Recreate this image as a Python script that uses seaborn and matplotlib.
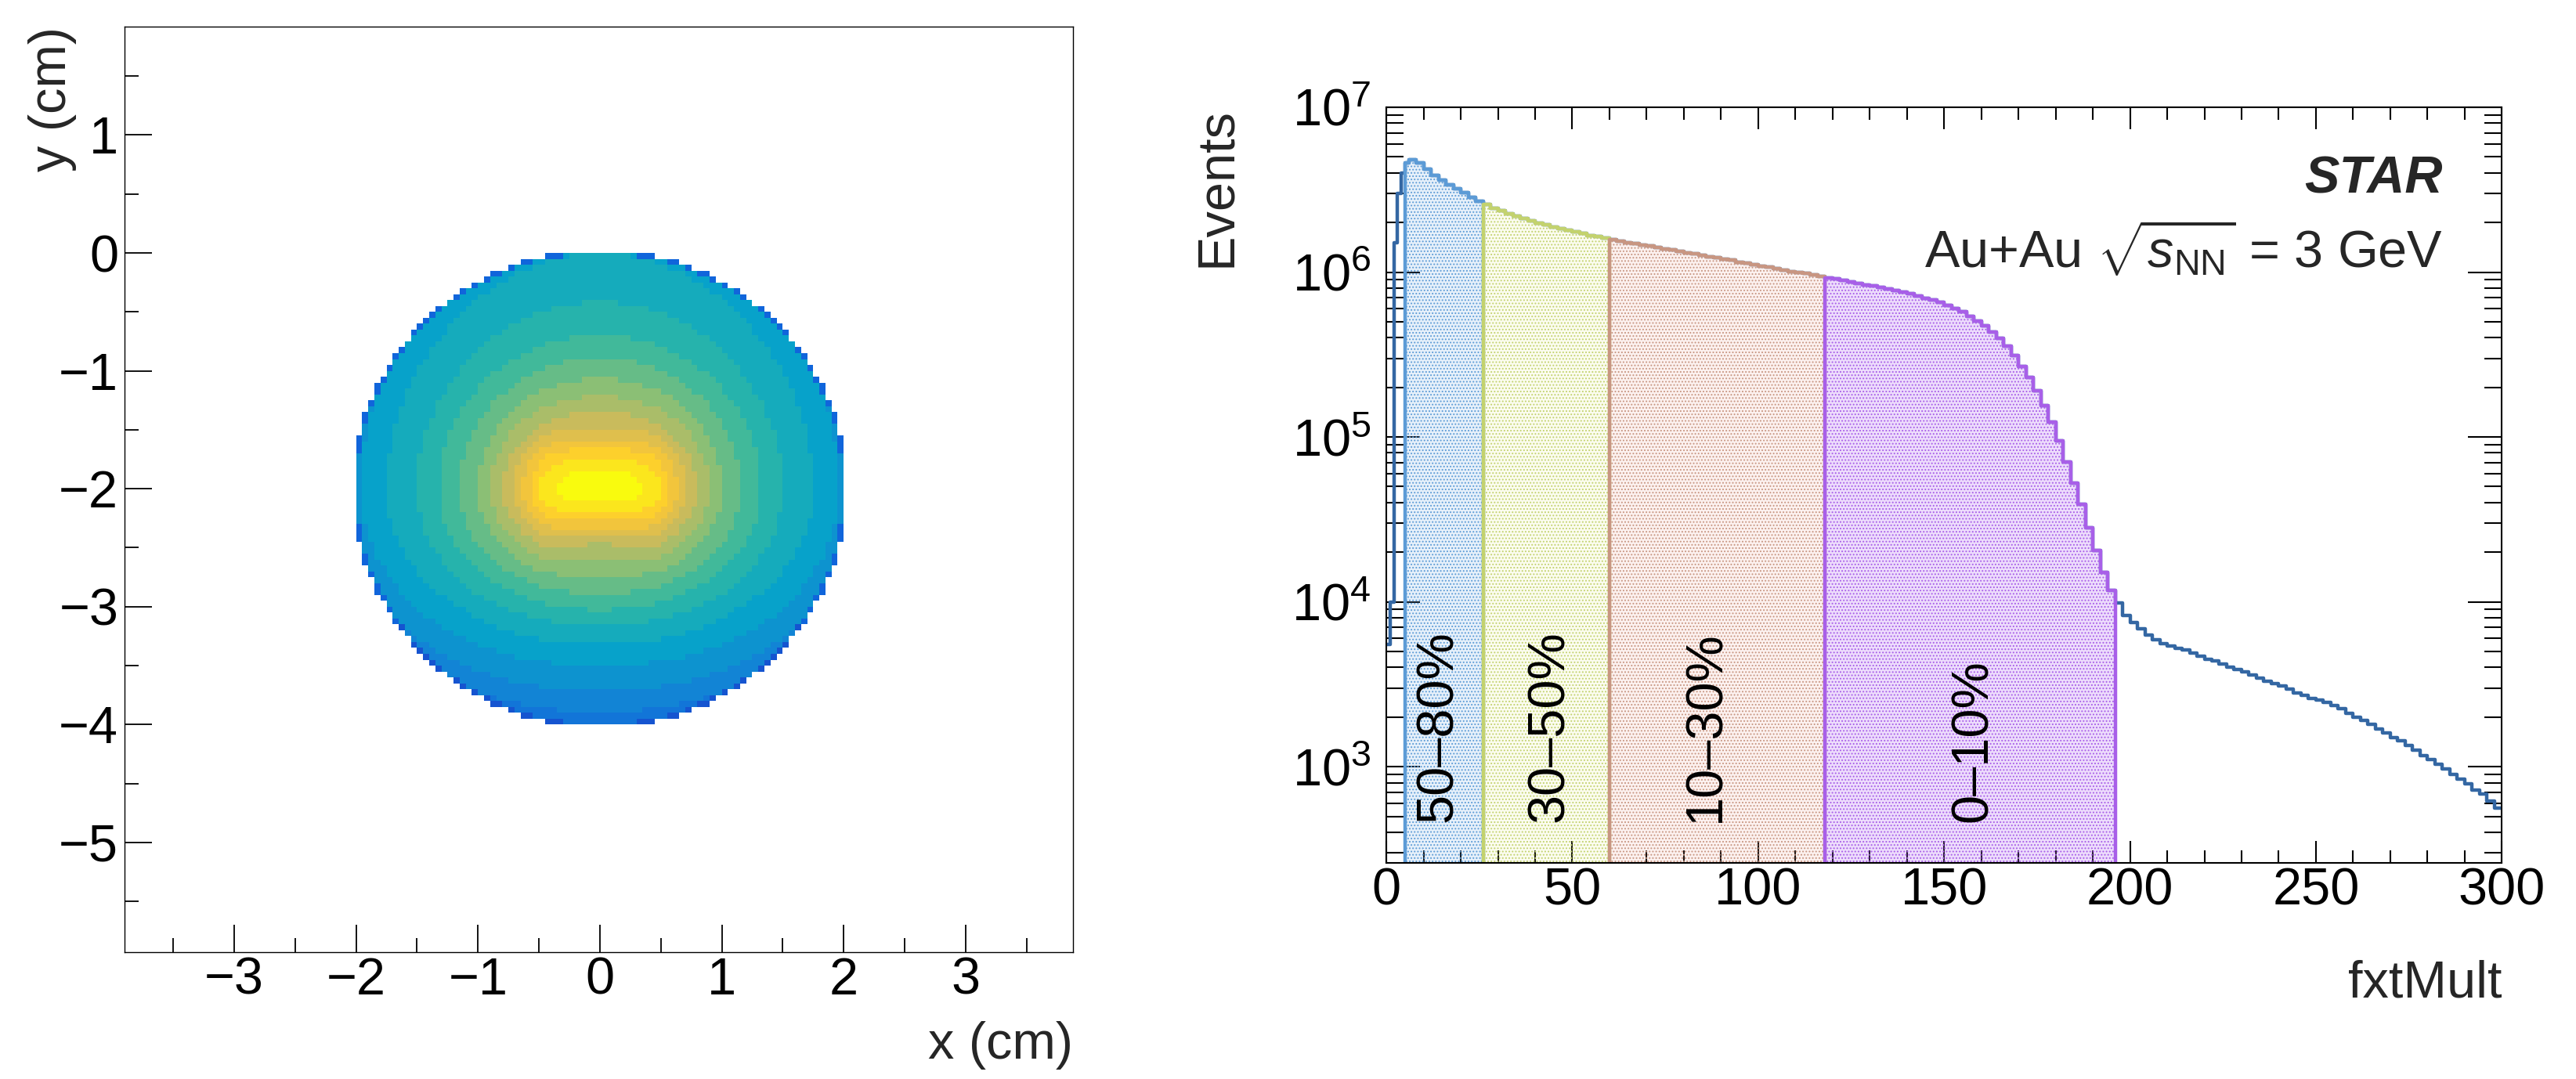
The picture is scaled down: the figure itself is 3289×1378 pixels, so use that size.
import numpy as np
import matplotlib
matplotlib.use("Agg")
import matplotlib.pyplot as plt
from matplotlib.colors import LinearSegmentedColormap, to_rgba
from matplotlib.ticker import MultipleLocator, LogLocator, NullFormatter
import seaborn as sns

# ---------------- left: vertex x-y map ----------------
# colour level (0..1 of the palette) read from the picture along three directions
ring_radius = [0.0, 0.25, 0.5, 0.75, 1.0, 1.25, 1.5, 1.75, 2.0]
level_horizontal = [1.0, 0.98, 0.90, 0.72, 0.60, 0.52, 0.45, 0.40, 0.34]
level_up = [1.0, 0.90, 0.75, 0.66, 0.58, 0.51, 0.46, 0.43, 0.40]
level_down = [1.0, 0.86, 0.68, 0.60, 0.51, 0.42, 0.35, 0.29, 0.22]
target_center = (0.0, -2.0)
target_radius = 2.025
rim_radius = 2.0      # bins beyond this are only partly filled
rim_fraction = 0.5
vtx_bin = 0.05

# ---------------- right: fxtMult distribution ----------------
mult_edges = [0, 1, 2, 3, 4, 5] + list(range(6, 301, 2))
rise_counts = [5.5e3, 1.0e4, 1.5e6, 3.0e6, 4.0e6]
c5080_counts = [4.6e6, 4.8e6, 4.6e6, 4.2e6, 3.85e6, 3.6e6, 3.4e6, 3.2e6, 3.05e6,
                2.85e6, 2.7e6]
c3050_counts = [2.57e6, 2.45e6, 2.37e6, 2.26e6, 2.19e6, 2.11e6, 2.04e6, 1.98e6,
                1.93e6, 1.87e6, 1.83e6, 1.79e6, 1.75e6, 1.71e6, 1.67e6, 1.64e6,
                1.61e6]
c1030_counts = [1.57e6, 1.54e6, 1.51e6, 1.49e6, 1.46e6, 1.44e6, 1.41e6, 1.38e6,
                1.36e6, 1.33e6, 1.31e6, 1.29e6, 1.26e6, 1.24e6, 1.22e6, 1.20e6,
                1.18e6, 1.15e6, 1.13e6, 1.11e6, 1.09e6, 1.07e6, 1.05e6, 1.03e6,
                1.01e6, 9.95e5, 9.79e5, 9.61e5, 9.44e5]
c010_counts = [9.25e5, 9.08e5, 8.91e5, 8.73e5, 8.57e5, 8.39e5, 8.24e5, 8.07e5,
               7.91e5, 7.74e5, 7.57e5, 7.38e5, 7.18e5, 6.97e5, 6.75e5, 6.53e5,
               6.30e5, 6.03e5, 5.73e5, 5.41e5, 5.07e5, 4.72e5, 4.35e5, 3.95e5,
               3.55e5, 3.13e5, 2.69e5, 2.29e5, 1.91e5, 1.55e5, 1.23e5, 9.44e4,
               7.08e4, 5.25e4, 3.89e4, 2.82e4, 2.04e4, 1.51e4, 1.17e4]
tail_counts = [9.8e3, 8.3e3, 7.5e3, 6.9e3, 6.3e3, 5.9e3, 5.6e3, 5.4e3, 5.25e3,
               5.1e3, 4.9e3, 4.7e3, 4.5e3, 4.4e3, 4.2e3, 4.0e3, 3.9e3, 3.75e3,
               3.6e3, 3.45e3, 3.3e3, 3.2e3, 3.1e3, 2.95e3, 2.8e3, 2.7e3, 2.6e3,
               2.55e3, 2.45e3, 2.35e3, 2.25e3, 2.1e3, 2.0e3, 1.9e3, 1.8e3, 1.7e3,
               1.6e3, 1.5e3, 1.43e3, 1.35e3, 1.26e3, 1.17e3, 1.11e3, 1.04e3,
               970, 900, 840, 790, 720, 680, 620, 560]
centrality_labels = ["50\u201380%", "30\u201350%", "10\u201330%", "0\u201310%"]
centrality_edges = [5, 26, 60, 118, 196]
centrality_colors = ["#5c9bd6", "#c3d26e", "#c89682", "#a85fe8"]
centrality_fill = ["#78b0e6", "#e6ee80", "#eaa290", "#b46ef5"]
centrality_fill_alpha = [0.18, 0.12, 0.14, 0.24]
centrality_label_x = [14, 44, 86, 158]
base_color = "#3467a3"

sns.set_theme(style="ticks")
plt.rcParams["font.family"] = ["Liberation Sans", "DejaVu Sans"]
plt.rcParams["mathtext.fontset"] = "custom"
plt.rcParams["mathtext.rm"] = "Liberation Sans"
plt.rcParams["mathtext.it"] = "Liberation Sans:italic"
plt.rcParams["mathtext.bf"] = "Liberation Sans:bold"
plt.rcParams["axes.edgecolor"] = "black"
plt.rcParams["hatch.linewidth"] = 0.9

FS = 48

# ROOT kBird palette, 20 contour levels
kbird = LinearSegmentedColormap.from_list("kbird", [
    (0.2082, 0.1664, 0.5293), (0.0592, 0.3599, 0.8684), (0.0780, 0.5041, 0.8385),
    (0.0232, 0.6419, 0.7914), (0.1802, 0.7178, 0.6425), (0.5301, 0.7492, 0.4662),
    (0.8186, 0.7328, 0.3499), (0.9956, 0.7862, 0.1968), (0.9764, 0.9832, 0.0539)])
kbird20 = kbird.resampled(20)

fig = plt.figure(figsize=(32.89, 13.78), dpi=100)
ax1 = fig.add_axes([0.0483, 0.1176, 0.3682, 0.8578])
ax2 = fig.add_axes([0.5382, 0.2003, 0.4330, 0.7003])

# ---- left panel
x_edges = np.round(np.arange(-2.1, 2.1 + 1e-9, vtx_bin), 4) + target_center[0]
y_edges = np.round(np.arange(-2.1, 2.1 + 1e-9, vtx_bin), 4) + target_center[1]
xc = 0.5 * (x_edges[:-1] + x_edges[1:])
yc = 0.5 * (y_edges[:-1] + y_edges[1:])
gx, gy = np.meshgrid(xc, yc)
dx = gx - target_center[0]
dy = gy - target_center[1]
rr = np.hypot(dx, dy)
s2 = np.where(rr > 0, (dy / np.where(rr > 0, rr, 1)) ** 2, 0)
h = np.interp(rr, ring_radius, level_horizontal)
lev = np.where(dy >= 0,
               (1 - s2) * h + s2 * np.interp(rr, ring_radius, level_up),
               (1 - s2) * h + s2 * np.interp(rr, ring_radius, level_down))
lev = np.where(rr > rim_radius, lev * rim_fraction, lev)
inside = rr <= target_radius
sns.histplot(x=gx[inside], y=gy[inside], weights=lev[inside],
             bins=[list(x_edges), list(y_edges)], cmap=kbird20, vmin=0, vmax=1,
             ax=ax1, linewidth=0, edgecolor="face")

ax1.set_xlim(-3.9, 3.88)
ax1.set_ylim(-5.93, 1.92)
ax1.xaxis.set_major_locator(MultipleLocator(1))
ax1.xaxis.set_minor_locator(MultipleLocator(0.5))
ax1.yaxis.set_major_locator(MultipleLocator(1))
ax1.yaxis.set_minor_locator(MultipleLocator(0.5))
ax1.tick_params(which="both", direction="in", top=False, right=False,
                labelsize=FS, width=1.3, colors="black")
ax1.tick_params(which="major", length=25)
ax1.tick_params(which="minor", length=13)
ax1.tick_params(axis="x", pad=4)
ax1.tick_params(axis="y", pad=5.5)
for sp in ax1.spines.values():
    sp.set_linewidth(1.0)
    sp.set_visible(True)
ax1.set_xlabel("x (cm)", fontsize=FS, loc="right")
ax1.set_ylabel("y (cm)", fontsize=FS, loc="top")
ax1.xaxis.set_label_coords(1.0, -0.101)
ax1.xaxis.label.set_verticalalignment("center")
ax1.yaxis.set_label_coords(-0.076, 1.0)
ax1.yaxis.label.set_verticalalignment("center")

# ---- right panel
edges = np.array(mult_edges, dtype=float)
centers = 0.5 * (edges[:-1] + edges[1:])
counts = np.array(rise_counts + c5080_counts + c3050_counts + c1030_counts
                  + c010_counts + tail_counts)

ax2.set_yscale("log")
sns.histplot(x=centers, weights=counts, bins=list(edges), element="step", fill=False,
             color=base_color, linewidth=3.2, ax=ax2, zorder=2)
for i, lab in enumerate(centrality_labels):
    lo, hi = centrality_edges[i], centrality_edges[i + 1]
    sel = (centers > lo) & (centers < hi)
    sub_edges = list(edges[(edges >= lo) & (edges <= hi)])
    sns.histplot(x=centers[sel], weights=counts[sel], bins=sub_edges,
                 element="step", fill=True, color=centrality_colors[i],
                 facecolor=to_rgba(centrality_fill[i], centrality_fill_alpha[i]),
                 edgecolor=centrality_colors[i], hatch="....",
                 linewidth=3.2, ax=ax2, zorder=3)
    ax2.text(centrality_label_x[i], 460, lab, rotation=90, ha="center",
             va="bottom", fontsize=FS, color="black", zorder=5)

ax2.set_xlim(0, 300)
ax2.set_ylim(261, 1e7)
ax2.xaxis.set_major_locator(MultipleLocator(50))
ax2.xaxis.set_minor_locator(MultipleLocator(10))
ax2.yaxis.set_major_locator(LogLocator(base=10, numticks=20))
ax2.yaxis.set_minor_locator(LogLocator(base=10, subs=np.arange(2, 10), numticks=100))
ax2.yaxis.set_minor_formatter(NullFormatter())
ax2.tick_params(which="both", direction="in", top=True, right=True,
                labelsize=FS, width=1.5, colors="black")
ax2.tick_params(axis="x", which="major", length=20, pad=4)
ax2.tick_params(axis="x", which="minor", length=11.5)
ax2.tick_params(axis="y", which="major", length=31, pad=14)
ax2.tick_params(axis="y", which="minor", length=16)
for sp in ax2.spines.values():
    sp.set_linewidth(1.5)
    sp.set_visible(True)
    sp.set_zorder(6)
ax2.set_xlabel("fxtMult", fontsize=FS, loc="right")
ax2.set_ylabel("Events", fontsize=FS, loc="top")
ax2.xaxis.set_label_coords(1.0, -0.16)
ax2.xaxis.label.set_verticalalignment("center")
ax2.yaxis.set_label_coords(-0.152, 1.0)
ax2.yaxis.label.set_verticalalignment("center")

ax2.text(0.947, 0.886, "STAR", transform=ax2.transAxes, ha="right",
         va="baseline", fontsize=FS, fontweight="bold", fontstyle="italic")
ax2.text(0.947, 0.788, r"Au+Au $\sqrt{s_{\mathrm{NN}}}$ = 3 GeV",
         transform=ax2.transAxes, ha="right", va="baseline", fontsize=FS)

fig.savefig("out.png", dpi=100)
